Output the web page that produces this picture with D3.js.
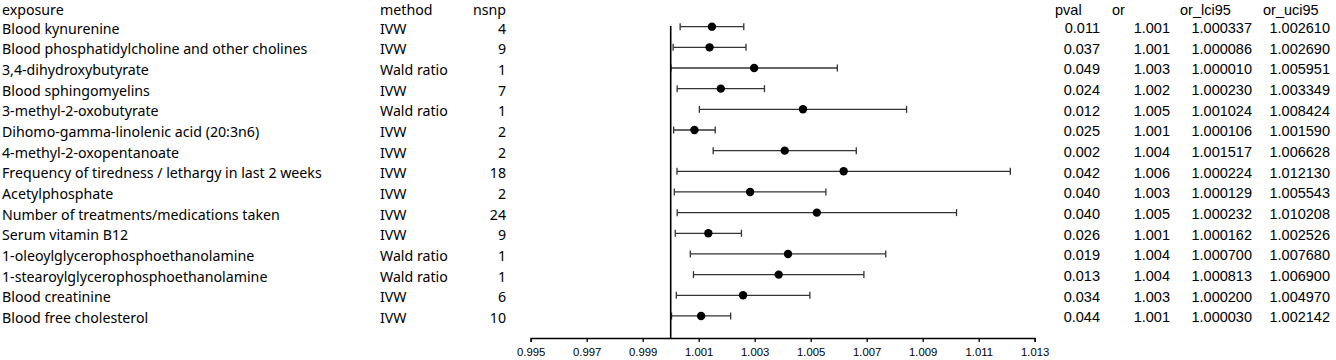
<!DOCTYPE html>
<html><head><meta charset="utf-8">
<script src="https://cdn.jsdelivr.net/npm/d3@7"></script>
<style>body{margin:0;background:#fff}svg{display:block}</style>
</head><body>
<script>
const exposures = ["Blood kynurenine","Blood phosphatidylcholine and other cholines","3,4-dihydroxybutyrate","Blood sphingomyelins","3-methyl-2-oxobutyrate","Dihomo-gamma-linolenic acid (20:3n6)","4-methyl-2-oxopentanoate","Frequency of tiredness / lethargy in last 2 weeks","Acetylphosphate","Number of treatments/medications taken","Serum vitamin B12","1-oleoylglycerophosphoethanolamine","1-stearoylglycerophosphoethanolamine","Blood creatinine","Blood free cholesterol"];
const methods = ["IVW","IVW","Wald ratio","IVW","Wald ratio","IVW","IVW","IVW","IVW","IVW","IVW","Wald ratio","Wald ratio","IVW","IVW"];
const nsnp = [4,9,1,7,1,2,2,18,2,24,9,1,1,6,10];
const pval = ["0.011","0.037","0.049","0.024","0.012","0.025","0.002","0.042","0.040","0.040","0.026","0.019","0.013","0.034","0.044"];
const orText = ["1.001","1.001","1.003","1.002","1.005","1.001","1.004","1.006","1.003","1.005","1.001","1.004","1.004","1.003","1.001"];
const orPoint = [1.001473,1.001388,1.002980,1.001789,1.004724,1.000848,1.004072,1.006177,1.002836,1.005220,1.001344,1.004190,1.003857,1.002585,1.001086];
const orLci = [1.000337,1.000086,1.000010,1.000230,1.001024,1.000106,1.001517,1.000224,1.000129,1.000232,1.000162,1.000700,1.000813,1.000200,1.000030];
const orUci = [1.002610,1.002690,1.005951,1.003349,1.008424,1.001590,1.006628,1.012130,1.005543,1.010208,1.002526,1.007680,1.006900,1.004970,1.002142];
const xTicks = [0.995,0.997,0.999,1.001,1.003,1.005,1.007,1.009,1.011,1.013];
const headers = ["exposure","method","nsnp","pval","or","or_lci95","or_uci95"];

const W = 1336, H = 360;
const svg = d3.select("body").append("svg").attr("width", W).attr("height", H);
const n = exposures.length;
const x = d3.scaleLinear().domain([0.995, 1.013]).range([530.7, 1034.7]);
const y = d3.scalePoint().domain(d3.range(-1, n)).range([6, 26.7 + (n-1)*20.66]);
const leftFont = "'Noto Sans', sans-serif";
const rightFont = "'Liberation Sans', Arial, sans-serif";
const fs = 14.2;

// headers
const hdrX = [2, 380, 473, 1055, 1112, 1180, 1263];
headers.forEach((h, i) => {
  svg.append("text").attr("x", hdrX[i]).attr("y", y(-1) + 3.5)
    .attr("dominant-baseline", "central")
    .attr("font-family", i < 3 ? leftFont : rightFont)
    .attr("font-size", i < 3 ? fs : 14.5).attr("fill", "#000").text(h);
});

const rows = svg.append("g").selectAll("g").data(d3.range(n)).join("g");
function col(xp, anchor, fam, size, accessor) {
  rows.append("text").attr("x", xp).attr("y", i => y(i) + 1.5)
    .attr("dominant-baseline", "central").attr("text-anchor", anchor)
    .attr("font-family", fam).attr("font-size", size).attr("fill", "#000")
    .text(accessor);
}
col(2, "start", leftFont, fs, i => exposures[i]);
col(380, "start", leftFont, fs, i => methods[i]);
col(506, "end", leftFont, fs, i => nsnp[i]);
col(1100, "end", rightFont, 14.5, i => pval[i]);
col(1170, "end", rightFont, 14.5, i => orText[i]);
col(1252, "end", rightFont, 14.5, i => orLci[i].toFixed(6));
col(1330, "end", rightFont, 14.5, i => orUci[i].toFixed(6));

// axis
const axisY = 338;
const axis = d3.axisBottom(x).tickValues(xTicks).tickFormat(d3.format(".3f")).tickSize(4).tickPadding(6);
const ag = svg.append("g").attr("transform", `translate(0,${axisY})`).call(axis);
ag.select(".domain").attr("stroke", "#000").attr("stroke-width", 1.5);
ag.selectAll(".tick line").attr("stroke", "#000").attr("stroke-width", 1.3);
ag.selectAll(".tick text").attr("font-family", rightFont).attr("font-size", 11.3).attr("fill", "#000");

// reference line
svg.append("line").attr("x1", x(1)).attr("x2", x(1)).attr("y1", 26).attr("y2", axisY)
  .attr("stroke", "#000").attr("stroke-width", 1.6);

// error bars
const eb = rows.append("g").attr("stroke", "#333").attr("stroke-width", 1.3);
eb.append("line").attr("x1", i => x(orLci[i])).attr("x2", i => x(orUci[i]))
  .attr("y1", i => y(i)).attr("y2", i => y(i));
eb.append("line").attr("x1", i => x(orLci[i])).attr("x2", i => x(orLci[i]))
  .attr("y1", i => y(i) - 3.5).attr("y2", i => y(i) + 3.5);
eb.append("line").attr("x1", i => x(orUci[i])).attr("x2", i => x(orUci[i]))
  .attr("y1", i => y(i) - 3.5).attr("y2", i => y(i) + 3.5);
rows.append("circle").attr("cx", i => x(orPoint[i])).attr("cy", i => y(i)).attr("r", 4.2).attr("fill", "#000");
</script>
</body></html>
